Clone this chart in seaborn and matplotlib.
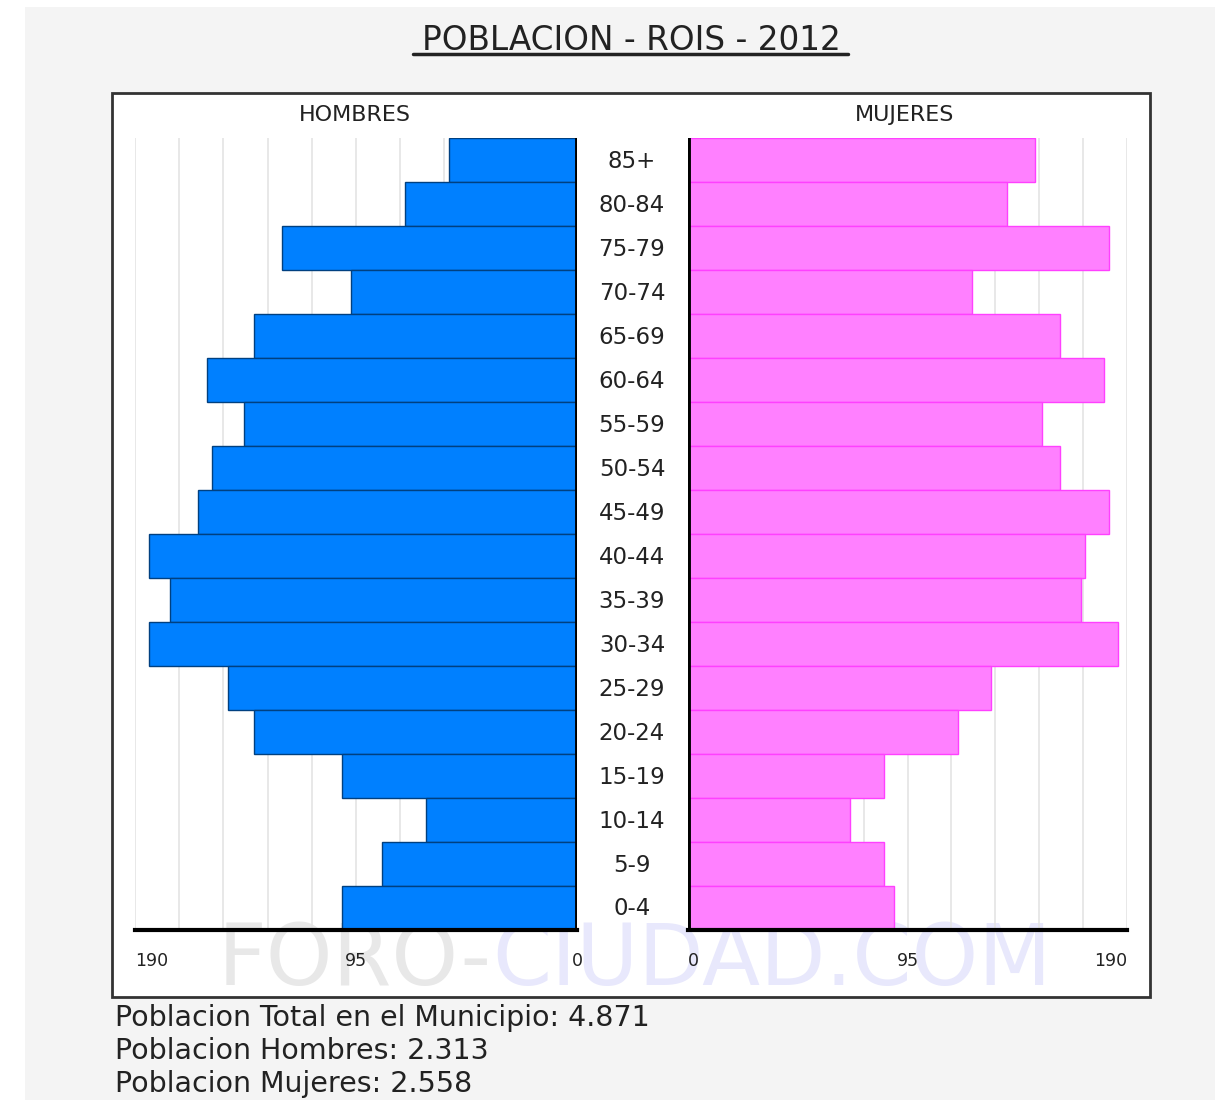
import matplotlib
matplotlib.use("Agg")
import matplotlib.pyplot as plt
import matplotlib.patches as mpatches
import seaborn as sns
import numpy as np
import pandas as pd

# age groups, top to bottom
grupos = ["85+", "80-84", "75-79", "70-74", "65-69", "60-64", "55-59", "50-54",
          "45-49", "40-44", "35-39", "30-34", "25-29", "20-24", "15-19",
          "10-14", "5-9", "0-4"]
hombres = [55, 74, 127, 97, 139, 159, 143, 157, 163, 184, 175, 184, 150, 139,
           101, 65, 84, 101]
mujeres = [150, 138, 182, 123, 161, 180, 153, 161, 182, 172, 170, 186, 131,
           117, 85, 70, 85, 89]
ticks = [190, 95, 0]
xmax = 190

df = pd.DataFrame({"grupo": grupos, "hombres": hombres, "mujeres": mujeres})

sns.set_style("white")
plt.rcParams['font.family'] = ['DejaVu Sans']

W, H = 1215, 1100
fig = plt.figure(figsize=(W / 100, H / 100), dpi=100)
fig.patch.set_facecolor("white")


def px(x0, y0, x1, y1):
    # pixel box -> figure fraction [left, bottom, width, height]
    return [x0 / W, 1 - y1 / H, (x1 - x0) / W, (y1 - y0) / H]


# grey page and white frame
fig.patches.append(mpatches.Rectangle((25 / W, 0), 1, 1 - 7 / H, transform=fig.transFigure,
                                      facecolor="#f4f4f4", edgecolor="none", zorder=-5))
fig.patches.append(mpatches.Rectangle((112 / W, 1 - 997 / H), (1150 - 112) / W, (997 - 93) / H,
                                      transform=fig.transFigure, facecolor="white",
                                      edgecolor="#333333", linewidth=2, zorder=-4))

# watermark
fig.text(492 / W, 1 - 962 / H, "FORO-", fontsize=61, color="#e8e8e8",
         ha="right", va="center", zorder=-3)
fig.text(492 / W, 1 - 962 / H, "CIUDAD.COM", fontsize=61, color="#e8e8fc",
         ha="left", va="center", zorder=-3)

axL = fig.add_axes(px(135, 138, 577, 930))
axR = fig.add_axes(px(688, 138, 1127, 930))

sns.barplot(data=df, y="grupo", x="hombres", order=grupos, ax=axL, color="#0080ff",
            width=1.0, edgecolor="#004080", linewidth=1, saturation=1, zorder=2)
sns.barplot(data=df, y="grupo", x="mujeres", order=grupos, ax=axR, color="#ff80ff",
            width=1.0, edgecolor="#ff40ff", linewidth=1, saturation=1, zorder=2)

for ax in (axL, axR):
    ax.set_facecolor("none")
    ax.set_ylim(len(grupos) - 0.5, -0.5)
    ax.set_xlabel("")
    ax.set_ylabel("")
    ax.set_yticks([])
    for g in np.arange(0, xmax + 1, 19):
        ax.axvline(g, color="#e4e4e4", linewidth=1.2, zorder=0)
    for s in ax.spines.values():
        s.set_visible(False)
    ax.spines["bottom"].set_visible(True)
    ax.spines["bottom"].set_linewidth(3)
    ax.spines["bottom"].set_color("black")
    ax.spines["bottom"].set_zorder(5)
    ax.set_xticks(ticks)
    ax.set_xticklabels([str(t) for t in ticks])
    ax.tick_params(axis="x", length=0, pad=16, labelsize=12.5, colors="#222222")

axL.set_xlim(xmax, 0)
axR.set_xlim(0, xmax)
axL.axvline(0, color="black", linewidth=3.5, zorder=5)
axR.axvline(0, color="black", linewidth=3.5, zorder=5)

# outer "190" labels sit inside the axis ends
for lab in axL.get_xticklabels():
    if lab.get_text() == "190":
        lab.set_horizontalalignment("left")
for lab in axR.get_xticklabels():
    if lab.get_text() == "190":
        lab.set_horizontalalignment("right")
    if lab.get_text() == "0":
        lab.set_horizontalalignment("left")

# age labels between the two panels
for i, g in enumerate(grupos):
    y = 162 + i * 43.94
    fig.text(632 / W, 1 - y / H, g, fontsize=16.5, color="#222222",
             ha="center", va="center")

fig.text(355 / W, 1 - 115 / H, "HOMBRES", fontsize=16, color="#222222", ha="center", va="center")
fig.text(905 / W, 1 - 115 / H, "MUJERES", fontsize=16, color="#222222", ha="center", va="center")

# title, underlined
fig.text(631 / W, 1 - 40 / H, "POBLACION - ROIS - 2012", fontsize=23.5, color="#222222",
         ha="center", va="center")
fig.add_artist(plt.Line2D([413 / W, 848 / W], [1 - 54 / H, 1 - 54 / H], color="#222222",
                          linewidth=2.5, transform=fig.transFigure))

lineas = ["Poblacion Total en el Municipio: 4.871",
          "Poblacion Hombres: 2.313",
          "Poblacion Mujeres: 2.558"]
for i, t in enumerate(lineas):
    fig.text(115 / W, 1 - (1018 + i * 33) / H, t, fontsize=20.5, color="#222222",
             ha="left", va="center")

plt.savefig("out.png", dpi=100, facecolor=fig.get_facecolor())
